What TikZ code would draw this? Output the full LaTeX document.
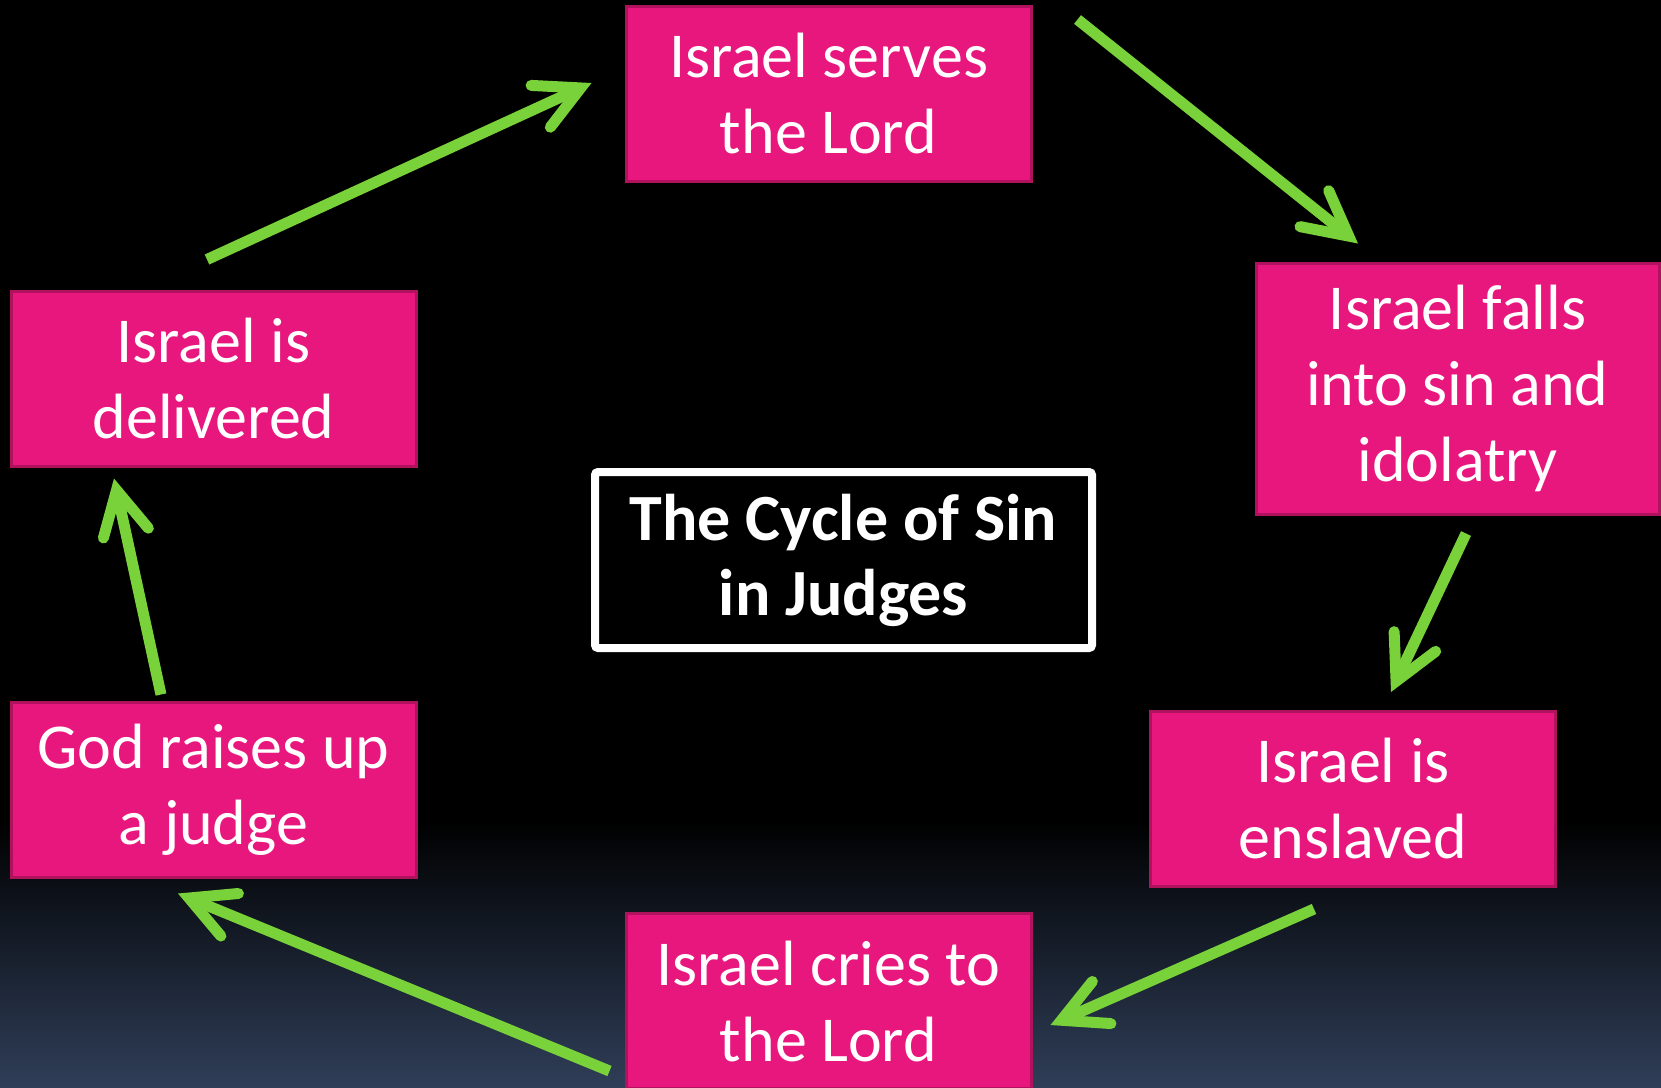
\documentclass[tikz,border=0pt]{standalone}
\usepackage{fontspec}
\setmainfont{Carlito}
\usepackage{tikz}
\usetikzlibrary{arrows.meta,calc}
\definecolor{stagepink}{HTML}{E8177D}
\definecolor{stageedge}{HTML}{B0125E}
\definecolor{cycgreen}{HTML}{7AD23A}
\definecolor{bgblue}{HTML}{2F3E58}
\tikzset{
  stage/.style={draw=stageedge, line width=3pt, fill=stagepink, text=white, align=center,
    minimum width=405pt, minimum height=175pt, inner sep=0pt, font=\fontsize{64}{76}\selectfont},
  cyc/.style={draw=cycgreen, line width=11pt,
    -{Straight Barb[length=44pt,width=46pt,line cap=round,line join=miter]}},
}

\begin{document}
\begin{tikzpicture}[x=1pt, y=-1pt]
\useasboundingbox (0,0) rectangle (1661,1087);
% background
\fill[black] (0,0) rectangle (1661,821);
\shade[top color=black, bottom color=bgblue] (0,820) rectangle (1661,1087);

% stages of the cycle
\node[stage] (serve) at (828.5,93.5) {Israel serves\\the Lord};
\node[stage, minimum width=403pt, minimum height=251pt] (fall) at (1457.5,388.5) {Israel falls\\into sin and\\idolatry};
\node[stage] (slave) at (1353,799) {Israel is\\enslaved};
\node[stage] (cry) at (828.5,1001) {Israel cries to\\the Lord};
\node[stage] (judge) at (213.5,789.5) {God raises up\\a judge};
\node[stage] (deliv) at (213.5,378.5) {Israel is\\delivered};

% title
\node[draw=white, line width=8pt, rounded corners=3pt, text=white, align=center,
  minimum width=497pt, minimum height=176pt, inner sep=0pt,
  font=\bfseries\fontsize{66}{75}\selectfont] (title) at (843.5,560) {The Cycle of Sin\\in Judges};

% arrows
\draw[cyc] ($(deliv.north)+(-6.5,-30)$) -- ($(serve.west)+(-33,-10.5)$);
\draw[cyc] ($(serve.north east)+(45,15)$) -- ($(fall.north)+(-99.5,-18)$);
\draw[cyc] ($(fall.south)+(8.5,18)$) -- ($(slave.north)+(38,-18)$);
\draw[cyc] ($(slave.south)+(-39,21)$) -- ($(cry.east)+(18,24)$);
\draw[cyc] ($(cry.west)+(-15,70)$) -- ($(judge.south)+(-35.5,15)$);
\draw[cyc] ($(judge.north)+(-52.5,-6)$) -- ($(deliv.south)+(-99.5,11)$);
\end{tikzpicture}
\end{document}
